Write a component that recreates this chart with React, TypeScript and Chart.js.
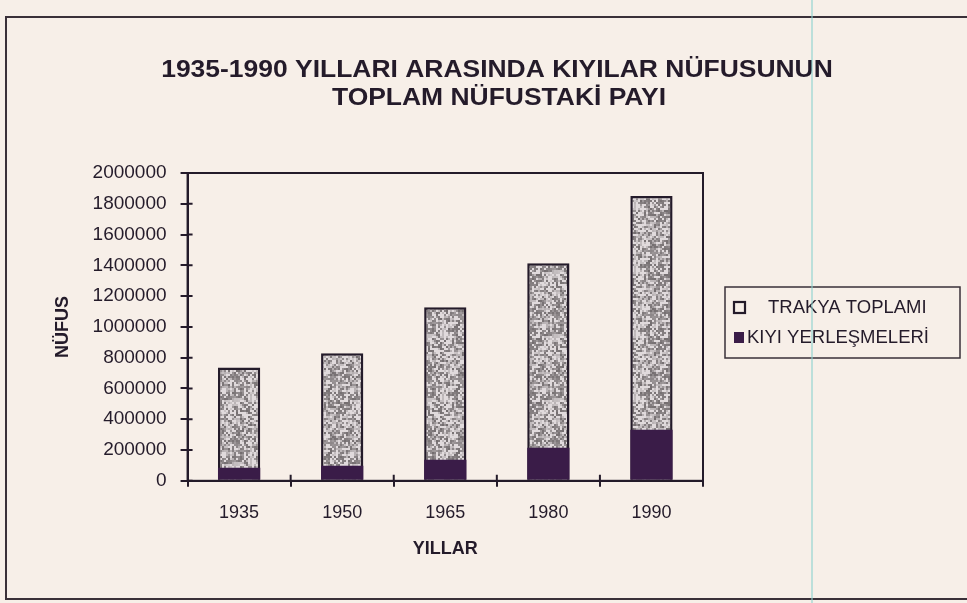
import React, { useEffect, useRef } from "react";
import { Chart, registerables } from "chart.js";

Chart.register(...registerables);

const years = ["1935", "1950", "1965", "1980", "1990"];
const trakyaTotal = [736000, 828000, 1127000, 1414000, 1850000];
const coastal = [85000, 98000, 137000, 215000, 332000];
const yTicks = [0, 200000, 400000, 600000, 800000, 1000000, 1200000, 1400000, 1600000, 1800000, 2000000];
const titleLines = ["1935-1990 YILLARI ARASINDA KIYILAR NÜFUSUNUN", "TOPLAM NÜFUSTAKİ PAYI"];
const seriesLabels = ["TRAKYA TOPLAMI", "KIYI YERLEŞMELERİ"];

const PAPER = "#f7efe8";
const INK = "#241b2a";
const DARK_BAR = "#3a1c48";
const FONT = "'Liberation Sans', Arial, sans-serif";

function hash(x: number, y: number): number {
  let h = Math.imul(x, 374761393) + Math.imul(y, 668265263);
  h = Math.imul(h ^ (h >>> 13), 1274126177);
  h = h ^ (h >>> 16);
  return (h >>> 0) / 4294967296;
}

function makePattern(ctx: CanvasRenderingContext2D): CanvasPattern | string {
  const size = 64;
  const c = document.createElement("canvas");
  c.width = size;
  c.height = size;
  const pc = c.getContext("2d");
  if (!pc) return "#b5adad";
  const img = pc.createImageData(size, size);
  for (let y = 0; y < size; y++) {
    for (let x = 0; x < size; x++) {
      const cx = x >> 1, cy = y >> 1;
      const h = hash(cx, cy);
      const blob = hash(x >> 3, y >> 3);
      let v: number;
      if (h < 0.3 + blob * 0.3) v = 110 + Math.floor(hash(cy, cx) * 45);
      else if (h < 0.65) v = 175 + Math.floor(hash(cx + 7, cy) * 25);
      else v = 218;
      const i = (y * size + x) * 4;
      img.data[i] = v + 6;
      img.data[i + 1] = v;
      img.data[i + 2] = v + 2;
      img.data[i + 3] = 255;
    }
  }
  pc.putImageData(img, 0, 0);
  return ctx.createPattern(c, "repeat") || "#b5adad";
}

const decorPlugin = {
  id: "decor",
  beforeDraw(chart: any) {
    const { ctx, width, height } = chart;
    ctx.save();
    ctx.fillStyle = PAPER;
    ctx.fillRect(0, 0, width, height);
    // outer frame
    ctx.strokeStyle = "#3a3038";
    ctx.lineWidth = 2;
    ctx.beginPath();
    ctx.moveTo(width + 2, 17);
    ctx.lineTo(6, 17);
    ctx.lineTo(6, 599);
    ctx.lineTo(width + 2, 599);
    ctx.stroke();
    // title
    ctx.fillStyle = INK;
    ctx.font = `bold 23px ${FONT}`;
    ctx.textAlign = "center";
    ctx.textBaseline = "middle";
    ctx.save();
    ctx.translate(497, 71);
    ctx.scale(1.15, 1);
    ctx.fillText(titleLines[0], 0, 0);
    ctx.restore();
    ctx.save();
    ctx.translate(499, 99);
    ctx.scale(1.15, 1);
    ctx.fillText(titleLines[1], 0, 0);
    ctx.restore();
    ctx.restore();
  },
  afterDraw(chart: any) {
    const { ctx, chartArea } = chart;
    const ys = chart.scales.y;
    const xs = chart.scales.x;
    ctx.save();
    // plot frame
    ctx.strokeStyle = INK;
    ctx.lineWidth = 2;
    ctx.strokeRect(chartArea.left, chartArea.top, chartArea.right - chartArea.left, chartArea.bottom - chartArea.top);
    // inner tick marks (y)
    ctx.beginPath();
    yTicks.forEach((v) => {
      const py = ys.getPixelForValue(v);
      ctx.moveTo(chartArea.left, py);
      ctx.lineTo(chartArea.left + 5, py);
    });
    // inner tick marks (x, between categories)
    for (let i = 0; i < years.length - 1; i++) {
      const px = (xs.getPixelForValue(i) + xs.getPixelForValue(i + 1)) / 2;
      ctx.moveTo(px, chartArea.bottom);
      ctx.lineTo(px, chartArea.bottom - 6);
    }
    ctx.stroke();

    // legend
    const lx = 725, ly = 287, lw = 235, lh = 71;
    ctx.lineWidth = 1.5;
    ctx.strokeStyle = "#3a3038";
    ctx.strokeRect(lx, ly, lw, lh);
    const ds = chart.data.datasets;
    ctx.font = `18.5px ${FONT}`;
    ctx.textAlign = "left";
    ctx.textBaseline = "middle";
    // item 1
    ctx.fillStyle = PAPER;
    ctx.fillRect(734, 302, 11, 11);
    ctx.lineWidth = 2.2;
    ctx.strokeStyle = INK;
    ctx.strokeRect(734, 302, 11, 11);
    ctx.fillStyle = INK;
    ctx.fillText(ds[0].label, 768, 308);
    // item 2
    ctx.fillStyle = DARK_BAR;
    ctx.fillRect(734, 332, 10, 11);
    ctx.fillStyle = INK;
    ctx.fillText(ds[1].label, 747, 338);

    // scan line
    ctx.strokeStyle = "rgba(140, 210, 205, 0.55)";
    ctx.lineWidth = 2;
    ctx.beginPath();
    ctx.moveTo(812, 0);
    ctx.lineTo(812, chart.height);
    ctx.stroke();
    ctx.restore();
  },
};

export default function App() {
  const ref = useRef<HTMLCanvasElement>(null);
  useEffect(() => {
    const canvas = ref.current;
    if (!canvas) return;
    const ctx = canvas.getContext("2d");
    if (!ctx) return;
    const pattern = makePattern(ctx);
    const chart = new Chart(canvas, {
      type: "bar",
      data: {
        labels: years,
        datasets: [
          {
            label: seriesLabels[0],
            data: trakyaTotal,
            backgroundColor: pattern as any,
            borderColor: INK,
            borderWidth: 2.5,
            order: 2,
            grouped: false,
            barPercentage: 0.41,
            categoryPercentage: 1,
          },
          {
            label: seriesLabels[1],
            data: coastal,
            backgroundColor: DARK_BAR,
            borderColor: DARK_BAR,
            borderWidth: 0,
            order: 1,
            grouped: false,
            barPercentage: 0.41,
            categoryPercentage: 1,
          },
        ],
      },
      options: {
        responsive: false,
        animation: false,
        events: [],
        layout: { padding: { left: 52, right: 264, top: 173, bottom: 43 } },
        plugins: {
          legend: { display: false },
          title: { display: false },
          tooltip: { enabled: false },
        },
        scales: {
          x: {
            grid: {
              offset: true,
              drawOnChartArea: false,
              drawTicks: true,
              tickLength: 6,
              color: INK,
              lineWidth: 2,
            },
            border: { display: true, color: INK, width: 2 },
            ticks: {
              color: INK,
              padding: 15,
              font: { family: FONT, size: 18 },
              maxRotation: 0,
            },
            title: {
              display: true,
              text: "YILLAR",
              color: INK,
              font: { family: FONT, size: 18, weight: "bold" },
              padding: { top: 0, bottom: 0 },
            },
          },
          y: {
            min: 0,
            max: 2000000,
            afterBuildTicks: (scale: any) => {
              scale.ticks = yTicks.map((v) => ({ value: v }));
            },
            grid: {
              drawOnChartArea: false,
              drawTicks: true,
              tickLength: 7,
              color: INK,
              lineWidth: 2,
            },
            border: { display: true, color: INK, width: 2 },
            ticks: {
              color: INK,
              padding: 14,
              font: { family: FONT, size: 19 },
              callback: (v: any) => String(v),
            },
            title: {
              display: true,
              text: "NÜFUS",
              color: INK,
              font: { family: FONT, size: 18, weight: "bold" },
              padding: { top: 0, bottom: 5 },
            },
          },
        },
      },
      plugins: [decorPlugin],
    });
    return () => chart.destroy();
  }, []);
  return (
    <div style={{ position: "fixed", left: 0, top: 0, width: 967, height: 603 }}>
      <canvas ref={ref} width={967} height={603} style={{ display: "block" }} />
    </div>
  );
}
